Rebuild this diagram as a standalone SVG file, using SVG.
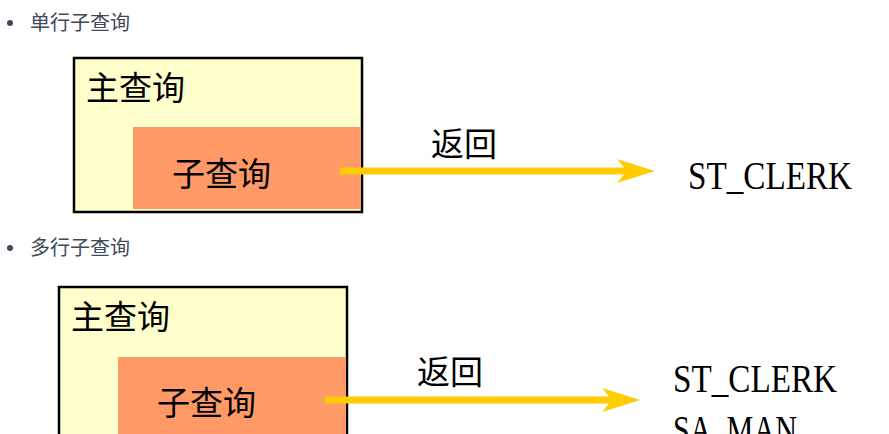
<svg xmlns="http://www.w3.org/2000/svg" width="889" height="434" viewBox="0 0 889 434">
<style>
.bul{fill:#3a4a5e}
.btxt{font-family:"Noto Sans CJK SC","Noto Sans",sans-serif;font-size:20px;fill:#3f4a58}
.outer{fill:#ffffcc;stroke:#000;stroke-width:2.5}
.inner{fill:#ff9966}
.cjk{font-family:"Noto Sans CJK SC",sans-serif;font-size:33px;fill:#000}
.lat{font-family:"Liberation Serif",serif;font-size:39px;fill:#000}
.line{stroke:#ffcc00;stroke-width:7;fill:none}
.head{fill:#ffcc00}
</style>
<rect width="889" height="434" fill="#fff"/>
<g id="bullet1">
<circle class="bul" cx="10" cy="23" r="3"/>
<text class="btxt" x="30" y="30">单行子查询</text>
</g>
<g id="main1">
<rect class="outer" x="74" y="58" width="288" height="154"/>
<text class="cjk" x="86" y="100">主查询</text>
</g>
<g id="sub1">
<rect class="inner" x="133" y="127" width="228" height="82"/>
<text class="cjk" x="172" y="186">子查询</text>
</g>
<g id="result1">
<text class="lat" x="688" y="189" textLength="164" lengthAdjust="spacingAndGlyphs">ST_CLERK</text>
</g>
<g id="bullet2">
<circle class="bul" cx="10" cy="248" r="3"/>
<text class="btxt" x="30" y="255">多行子查询</text>
</g>
<g id="main2">
<rect class="outer" x="59" y="287" width="288" height="160"/>
<text class="cjk" x="71" y="329">主查询</text>
</g>
<g id="sub2">
<rect class="inner" x="118" y="357" width="228" height="90"/>
<text class="cjk" x="157" y="415">子查询</text>
</g>
<g id="result2">
<text class="lat" x="673" y="392" textLength="164" lengthAdjust="spacingAndGlyphs">ST_CLERK</text>
<text class="lat" x="673" y="443" textLength="124" lengthAdjust="spacingAndGlyphs">SA_MAN</text>
</g>
<g id="connectors">
<line class="line" x1="340" y1="171" x2="628" y2="171"/>
<polygon class="head" points="617,159 655,171 617,183 627,171"/>
<text class="cjk" x="431" y="156">返回</text>
<line class="line" x1="325" y1="400" x2="613" y2="400"/>
<polygon class="head" points="602,388 640,400 602,412 612,400"/>
<text class="cjk" x="417" y="384">返回</text>
</g>
</svg>
